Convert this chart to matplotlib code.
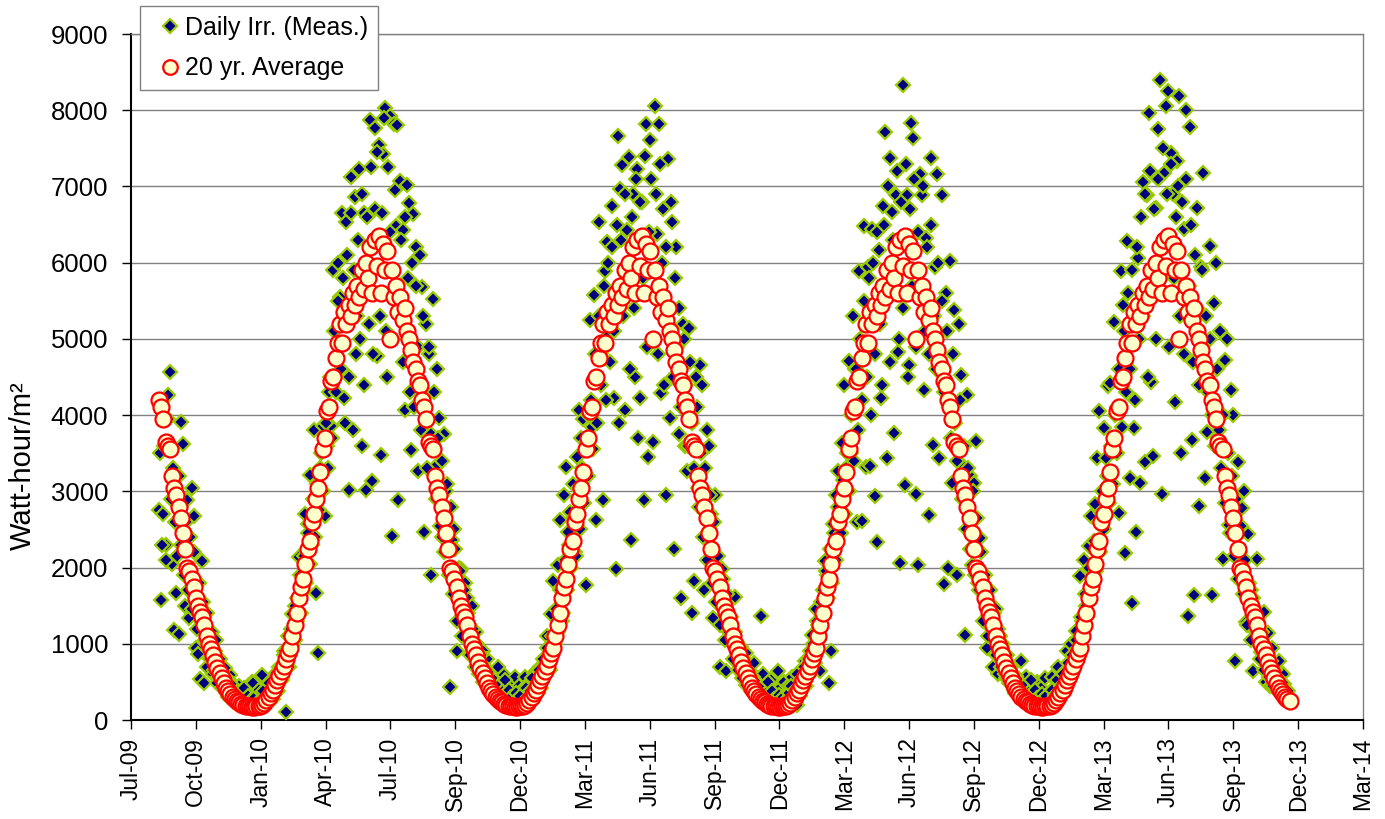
#Daily irradiation (measured) against the 20 yr average
import numpy as np
import pandas as pd
import matplotlib
matplotlib.use("Agg")
import matplotlib.pyplot as plt
from matplotlib.lines import Line2D

plt.rcParams["font.family"] = ["Liberation Sans", "DejaVu Sans"]

DATA_START = "2009-08-14"
DATA_END = "2013-11-30"

#20 yr average, Watt-hour/m2, every 3rd day of the year from Jan 1
avg_profile = [
    185, 195, 220, 260, 300, 350, 400, 460, 520, 580,
    640, 710, 800, 880, 950, 1100, 1250, 1400, 1600, 1750,
    1850, 2050, 2250, 2350, 2600, 2700, 2900, 3050, 3250, 3550,
    3700, 4050, 4100, 4450, 4500, 4750, 4950, 5200, 4950, 5350,
    5200, 5450, 5300, 5600, 5450, 5700, 5550, 5900, 5650, 6000,
    5800, 6200, 5600, 6300, 5950, 6350, 5600, 6250, 5900, 6150,
    5000, 5900, 5550, 5700, 5350, 5550, 5250, 5400, 5100, 5000,
    4850, 4700, 4600, 4450, 4400, 4200, 4100, 3950, 3650, 3600,
    3550, 3200, 3050, 2950, 2800, 2650, 2450, 2250, 2000, 1950,
    1850, 1750, 1600, 1500, 1420, 1350, 1250, 1100, 1000, 930,
    850, 760, 680, 620, 550, 480, 420, 380, 340, 300,
    270, 250, 230, 215, 200, 190, 185, 180, 175, 175,
    180, 185,
]

#measured daily irradiation, every 3rd day (first set)
meas_2009 = [  #from Aug 14 2009
    2750, 1580, 2700, 2300, 4260, 4560, 2050, 1180, 1660, 1125,
    3910, 3615, 1500, 2890, 1340, 3050, 2680, 940, 860, 535,
    2090, 480, 700, 1000, 910, 600, 910, 480, 650, 590,
    420, 535, 300, 590, 250, 400, 320, 450, 200, 380,
    250, 450, 300, 500, 400, 250, 550,
]
meas_2010 = [  #from Jan 1
    300, 590, 250, 420, 350, 500, 280, 560, 450, 700,
    520, 900, 100, 1100, 850, 1390, 1050, 1600, 2140, 1400,
    1900, 2700, 2570, 3210, 2300, 3800, 1660, 880, 3300, 3860,
    2680, 3600, 4300, 3860, 5900, 4500, 6000, 5550, 6650, 4230,
    6540, 3020, 7130, 3800, 6860, 5300, 7230, 3590, 6650, 3020,
    5900, 7870, 3130, 7770, 4770, 7550, 3480, 7420, 8030, 4500,
    7930, 2410, 7820, 6480, 2890, 7070, 6430, 4070, 7020, 6780,
    3540, 6640, 6210, 3270, 6100, 5680, 2460, 5200, 4800, 1900,
    5520, 3320, 4610, 3960, 2400, 3750, 3000, 2520, 430, 2360,
    2500, 900, 2000, 1980, 1500, 1800, 1600, 1230, 1500, 1020,
    1150, 960, 750, 900, 650, 800, 550, 620, 400, 500,
    700, 450, 320, 590, 430, 250, 500, 350, 560, 300,
    450, 380,
]
meas_2011 = [
    400, 560, 300, 480, 250, 620, 450, 350, 700, 500,
    800, 1100, 750, 1390, 1820, 1000, 2040, 2620, 1300, 2950,
    3320, 2460, 2730, 3100, 2200, 3450, 4070, 3700, 3950, 1770,
    4000, 5250, 3850, 5570, 2620, 6540, 4820, 2890, 5890, 6270,
    5050, 6750, 4230, 1980, 7660, 6960, 7280, 4070, 6430, 7390,
    2360, 6900, 4500, 7230, 4230, 6800, 2890, 7820, 3450, 7610,
    3650, 8060, 6370, 7820, 4290, 6700, 2950, 7360, 3960, 6530,
    2250, 6210, 3750, 1600, 5200, 3590, 3270, 5140, 1400, 1820,
    4500, 3050, 4660, 4390, 1700, 3800, 3590, 2700, 1340, 2950,
    1820, 700, 1980, 1500, 640, 1380, 1230, 1180, 1610, 1020,
    860, 960, 700, 880, 550, 640, 430, 750, 500, 380,
    1370, 600, 300, 450, 250, 520, 380, 200, 640, 420,
    300, 500,
]
meas_2012 = [
    250, 450, 300, 560, 350, 200, 500, 650, 420, 780,
    600, 900, 1120, 800, 1450, 1250, 640, 1710, 2090, 1900,
    480, 910, 2570, 2950, 3270, 2700, 3640, 4390, 3300, 4710,
    3500, 5300, 4600, 2600, 5890, 2610, 6480, 3320, 5940, 3330,
    6440, 2940, 2330, 6160, 4220, 6740, 7710, 3440, 7370, 6670,
    3770, 6890, 4830, 2060, 8330, 3080, 6890, 4660, 7830, 7630,
    2970, 2030, 7160, 6890, 4330, 6330, 2690, 7370, 3610, 5940,
    7160, 3440, 6890, 1780, 5600, 2000, 6020, 3110, 5380, 1900,
    5190, 4520, 3330, 1110, 4270, 3200, 2030, 3110, 3660, 1800,
    2390, 1720, 1900, 940, 1550, 1390, 700, 1450, 610, 1100,
    940, 800, 550, 700, 480, 600, 350, 520, 400, 780,
    300, 560, 280, 450, 350, 250, 500, 300, 420, 200,
    550, 330,
]
meas_2013 = [  #up to Nov 30
    350, 560, 280, 450, 700, 400, 620, 500, 900, 670,
    1000, 800, 1170, 950, 1890, 1300, 2100, 1500, 2280, 2670,
    1900, 2830, 3440, 4060, 2720, 3830, 3440, 4380, 4420, 3600,
    5220, 4110, 2720, 5890, 5440, 2190, 6280, 3170, 1530, 3830,
    2470, 6060, 3110, 7060, 3390, 6890, 7970, 4440, 3470, 6720,
    7750, 8390, 2970, 7170, 8060, 8250, 7440, 6900, 4170, 7330,
    8190, 3500, 6440, 8000, 1360, 7780, 3670, 1640, 6720, 2810,
    5940, 7170, 3170, 3780, 6220, 1640, 5470, 6000, 3700, 5110,
    2110, 4720, 5000, 2560, 4330, 4000, 780, 3390, 2200, 2780,
    3000, 1280, 2440, 1700, 640, 1440, 2110, 1000, 890, 1420,
    500, 1140, 440, 940, 700, 610, 780, 480, 600, 330,
    400, 250,
]

#measured, every 3rd day (second set, one day later)
meas_2009b = [  #from Aug 15 2009
    3500, 2300, 3600, 2100, 3950, 2900, 3300, 2600, 2150, 3200,
    2300, 1900, 2600, 1700, 2400, 1450, 2200, 1200, 1800, 1300,
    1550, 1050, 1400, 800, 1150, 650, 1050, 560, 800, 420,
    680, 350, 520, 300, 450, 220, 380, 300, 250, 420,
    200, 320, 260, 480, 300, 220, 400,
]
meas_2010b = [  #from Jan 2
    250, 380, 200, 320, 480, 300, 450, 620, 380, 700,
    550, 850, 950, 700, 1200, 1000, 1500, 1300, 1900, 1650,
    2150, 1800, 2450, 2050, 2900, 2400, 3100, 2750, 3500, 3000,
    3900, 3300, 4500, 3700, 5100, 4300, 5500, 4600, 5800, 3900,
    6100, 4500, 6650, 5900, 4800, 6300, 5000, 6900, 4400, 6600,
    5200, 7250, 4800, 6700, 7450, 5300, 6650, 7900, 5100, 7250,
    6400, 5000, 6950, 7800, 5400, 6300, 4700, 6600, 5800, 4300,
    6000, 4100, 5700, 4900, 3800, 5300, 4300, 3300, 4900, 3750,
    4300, 2900, 3700, 2550, 3400, 2200, 3100, 1900, 2800, 1650,
    2250, 1300, 1950, 1100, 1700, 1250, 1400, 850, 1200, 700,
    1000, 600, 850, 500, 700, 420, 600, 350, 520, 300,
    450, 250, 380, 520, 220, 400, 300, 180, 350, 250,
    320, 200,
]
meas_2011b = [
    220, 420, 300, 380, 550, 280, 480, 650, 420, 800,
    600, 950, 650, 1100, 1000, 1450, 1150, 1700, 1400, 2100,
    1700, 2300, 2000, 2650, 2150, 3050, 2500, 3300, 2850, 3650,
    3200, 4200, 3550, 4800, 3900, 5300, 4400, 5700, 4200, 6000,
    4700, 6200, 5100, 6500, 3900, 6300, 5300, 6900, 5800, 4600,
    6600, 5400, 7100, 3700, 6800, 5800, 7400, 4900, 6400, 7100,
    5600, 6900, 4800, 7300, 6000, 4400, 6200, 5200, 6800, 4500,
    5800, 4900, 5400, 4100, 5000, 4400, 3600, 4700, 3900, 3300,
    4100, 2800, 3500, 2400, 3300, 2100, 2950, 1800, 2600, 1550,
    2150, 1250, 1850, 1050, 1650, 1150, 1350, 800, 1150, 650,
    950, 550, 800, 460, 650, 380, 560, 330, 480, 260,
    420, 230, 360, 500, 200, 380, 280, 170, 330, 230,
    300, 190,
]
meas_2012b = [
    280, 350, 450, 220, 400, 600, 320, 550, 700, 450,
    800, 600, 1000, 750, 1300, 1050, 1550, 1350, 1950, 1600,
    2250, 1800, 2450, 2100, 2800, 2450, 3150, 2700, 3500, 3000,
    4000, 3400, 4600, 3800, 5000, 4200, 5500, 4500, 5800, 4000,
    6000, 4800, 6400, 5200, 4400, 6500, 5600, 7000, 4700, 6300,
    5800, 7200, 5000, 6800, 5400, 7300, 4500, 6700, 5700, 7100,
    4900, 6400, 5500, 7000, 5100, 6200, 4800, 6500, 5300, 4600,
    6000, 4700, 5500, 4300, 5100, 4100, 3700, 4800, 3900, 3400,
    4200, 2900, 3600, 2500, 3300, 2250, 3000, 1900, 2650, 1700,
    2200, 1300, 1900, 1100, 1700, 1200, 1400, 850, 1200, 700,
    1000, 600, 850, 480, 700, 400, 580, 340, 500, 280,
    440, 240, 370, 520, 210, 390, 290, 180, 340, 240,
    310, 200,
]
meas_2013b = [  #up to Dec 1
    230, 400, 330, 520, 260, 450, 600, 380, 750, 550,
    850, 700, 1050, 800, 1350, 1100, 1650, 1350, 2000, 1700,
    2350, 1950, 2600, 2200, 3000, 2500, 3200, 2850, 3600, 3100,
    4000, 3500, 4600, 3850, 5100, 4300, 5600, 4600, 5900, 4200,
    6200, 5000, 6600, 5300, 6900, 4500, 7200, 5600, 6700, 5000,
    7100, 5600, 7500, 6200, 6900, 4900, 7300, 5800, 6600, 7000,
    5300, 6800, 4800, 7100, 5700, 6500, 4700, 6100, 5400, 4400,
    5900, 4700, 5300, 4300, 5000, 4000, 3600, 4600, 3800, 3300,
    4000, 2850, 3500, 2450, 3200, 2150, 2900, 1850, 2550, 1650,
    2100, 1250, 1800, 1050, 1600, 1150, 1300, 800, 1150, 650,
    900, 560, 780, 450, 650, 380, 540, 320, 470, 280,
    380, 240,
]

meas_starts = ["2009-08-14", "2010-01-01", "2011-01-01", "2012-01-01", "2013-01-01"]
meas_lists = [meas_2009, meas_2010, meas_2011, meas_2012, meas_2013]
meas_starts_b = ["2009-08-15", "2010-01-02", "2011-01-02", "2012-01-02", "2013-01-02"]
meas_lists_b = [meas_2009b, meas_2010b, meas_2011b, meas_2012b, meas_2013b]

#Excel date axis: one label every 90 days
tick_dates = pd.date_range("2009-07-06", periods=20, freq="90D")

meas_x = []
meas_y = []
for start, vals in zip(meas_starts + meas_starts_b, meas_lists + meas_lists_b):
    meas_x.extend(pd.date_range(start, periods=len(vals), freq="3D"))
    meas_y.extend(vals)

avg_x = []
avg_y = []
for yr in range(2009, 2014):
    d = pd.date_range("%d-01-01" % yr, periods=len(avg_profile), freq="3D")
    for day, v in zip(d, avg_profile):
        if pd.Timestamp(DATA_START) <= day <= pd.Timestamp(DATA_END):
            avg_x.append(day)
            avg_y.append(v)

W, H = 1385, 819
fig = plt.figure(figsize=(W / 100, H / 100), dpi=100)
ax = fig.add_axes([131 / W, 1 - 720 / H, (1363 - 131) / W, (720 - 34) / H])

meas_style = dict(ls="none", marker="D", ms=7, mfc="#000080", mec="#99CC00", mew=1.6)
avg_style = dict(ls="none", marker="o", ms=11.5, mfc="#FFFFCC", mec="#FF0000", mew=1.6)

ax.plot(meas_x, meas_y, **meas_style, zorder=3)
ax.plot(avg_x, avg_y, **avg_style, zorder=4)

ax.set_xlim(tick_dates[0], tick_dates[-1])
ax.set_ylim(0, 9000)
ax.set_yticks(range(0, 9001, 1000))
ax.set_xticks(tick_dates)
ax.set_xticklabels([t.strftime("%b-%y") for t in tick_dates], rotation=90)

ax.yaxis.grid(True, color="#808080", lw=1)
ax.set_axisbelow(True)
for s in ["left", "bottom"]:
    ax.spines[s].set_color("black")
    ax.spines[s].set_linewidth(1.5)
for s in ["top", "right"]:
    ax.spines[s].set_color("#808080")
    ax.spines[s].set_linewidth(1)

ax.tick_params(axis="x", direction="out", length=6.5, width=1, labelsize=16.5, pad=6)
ax.tick_params(axis="y", direction="out", length=6.5, width=1, labelsize=18.5, pad=10)

fig.text(23 / W, 1 - 466 / H, "Watt-hour/m²", rotation=90, ha="center", va="center", fontsize=21)

h1 = Line2D([], [], ls="none", marker="D", ms=7, mfc="#000080", mec="#99CC00", mew=1.6)
h2 = Line2D([], [], ls="none", marker="o", ms=10.5, mfc="#FFFFCC", mec="#FF0000", mew=1.6)
leg = fig.legend([h1, h2], ["Daily Irr. (Meas.)", "20 yr. Average"], loc="upper left",
                 bbox_to_anchor=(140 / W, 1 - 6 / H), frameon=True, fancybox=False,
                 edgecolor="#808080", framealpha=1, fontsize=18, handlelength=1.6,
                 handletextpad=-0.2, borderpad=0.4, labelspacing=0.65, borderaxespad=0)
leg.get_frame().set_linewidth(1)

fig.savefig("out.png", dpi=100)
